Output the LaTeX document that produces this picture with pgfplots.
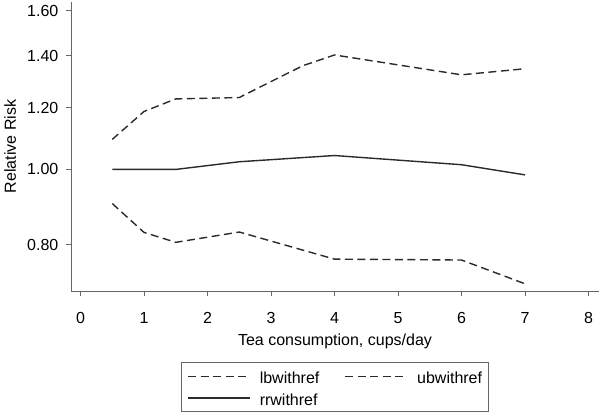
\documentclass[border=0pt]{standalone}
\usepackage{fontspec}
\setmainfont{Liberation Sans}
\usepackage{pgfplots}
\pgfplotsset{compat=1.18}
\definecolor{axgray}{HTML}{666666}
\definecolor{lngray}{HTML}{2A2A2A}
\begin{document}
\fontsize{16}{19}\selectfont
\begin{tikzpicture}
\useasboundingbox (0,0) rectangle (600pt,416pt);
\begin{axis}[
  at={(71pt,125pt)}, anchor=south west,
  scale only axis, width=528pt, height=289pt,
  ymode=log,
  xmin=-0.15, xmax=8.165,
  ymin=0.698, ymax=1.641,
  axis x line*=bottom, axis y line*=left,
  axis line style={axgray, line width=1pt, -},
  xtick={0,1,2,3,4,5,6,7,8},
  ytick={0.8,1,1.2,1.4,1.6},
  yticklabels={0.80,1.00,1.20,1.40,1.60},
  yminorticks=false, xminorticks=false,
  tick align=outside, major tick length=5pt,
  tick style={axgray, line width=0.8pt},
  /pgf/number format/assume math mode=true,
  xticklabel style={anchor=base, inner sep=0pt, yshift=-27.5pt},
  yticklabel style={anchor=east, inner sep=0pt, xshift=-7.5pt},
  xlabel={Tea consumption, cups/day},
  ylabel={Relative Risk},
  xlabel style={at={(axis description cs:0.5,-0.1869)}, anchor=base, inner sep=0pt},
  ylabel style={at={(axis description cs:-0.1150,0.5)}, anchor=center, inner sep=0pt},
  legend columns=2,
  legend cell align=left,
  legend image code/.code={\draw[#1, line width=1.4pt] (0pt,0pt) -- (62pt,0pt);},
  legend style={at={(axis description cs:0.2083,-0.2457)}, anchor=north west,
    draw=axgray, line width=0.8pt, inner xsep=6pt, inner ysep=3pt,
    nodes={inner sep=0pt, text height=18.3pt, text depth=3.4pt},
    column sep=9pt,
    /tikz/column 2/.style={column sep=25.4pt}},
]
\addplot[lngray, line width=1.4pt, dash pattern=on 8pt off 4.5pt] coordinates {
  (0.5,0.904) (1,0.830) (1.5,0.806) (2.5,0.831) (4,0.767) (6,0.765) (7,0.713)};
\addlegendentry{lbwithref}
\addplot[lngray, line width=1.4pt, dash pattern=on 8pt off 4.5pt] coordinates {
  (0.5,1.093) (1,1.187) (1.5,1.232) (2.5,1.237) (3,1.297) (3.5,1.359) (4,1.403) (6,1.323) (7,1.347)};
\addlegendentry{ubwithref}
\addplot[lngray, line width=1.4pt, solid] coordinates {
  (0.5,1.0) (1,1.0) (1.5,1.0) (2.5,1.023) (4,1.042) (6,1.014) (7,0.984)};
\addlegendentry{rrwithref}
\end{axis}
\end{tikzpicture}
\end{document}
